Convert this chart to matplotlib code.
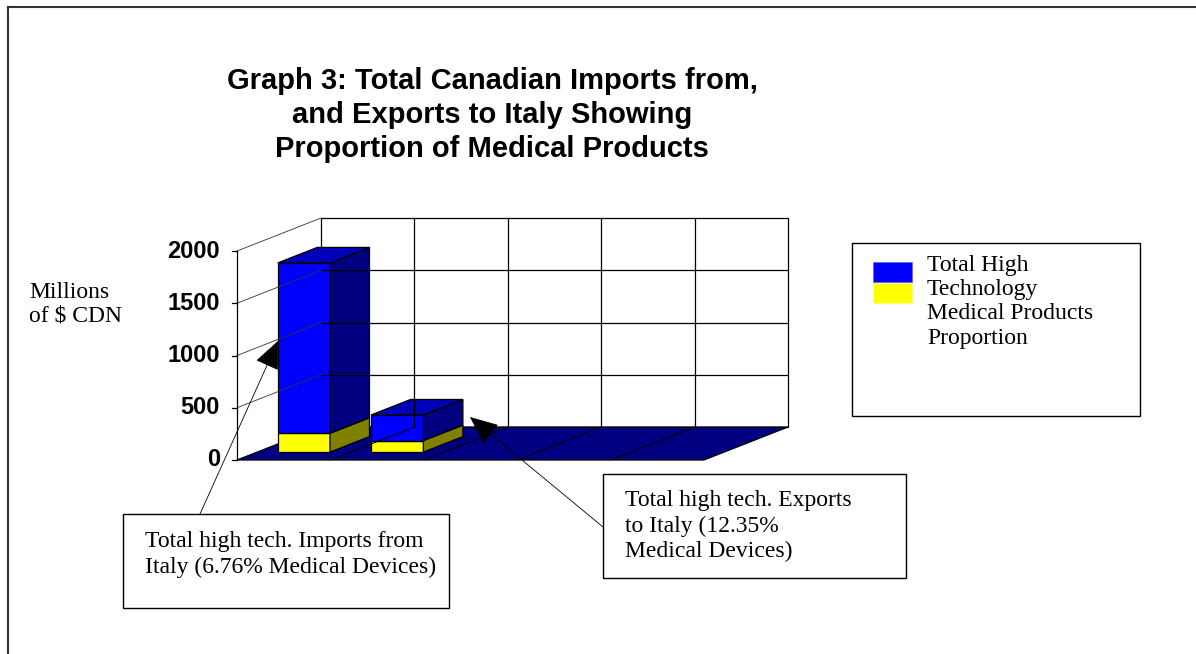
import matplotlib.pyplot as plt
from matplotlib.patches import Polygon, Rectangle

# data (millions of $ CDN)
categories = ["Imports from Italy", "Exports to Italy"]
total_high_tech = [1810, 355]
medical_products = [180, 110]
n_slots = 5
y_ticks = [0, 500, 1000, 1500, 2000]
legend_labels = ["Total High\nTechnology", "Medical Products\nProportion"]
notes = ["Total high tech. Imports from\nItaly (6.76% Medical Devices)",
         "Total high tech. Exports\nto Italy (12.35%\nMedical Devices)"]

W, H = 1196, 654
fig = plt.figure(figsize=(W / 100, H / 100), dpi=100)
ax = fig.add_axes([0, 0, 1, 1])

# axes scaled so the front floor corner sits at pixel (237, 460)
slot_px = 93.4
unit_px = 209 / 2000
ax.set_xlim(-237 / slot_px, (W - 237) / slot_px)
ax.set_ylim(-(H - 460) / unit_px, 460 / unit_px)
ax.axis("off")

DX = 84 / slot_px   # depth shift in slots
DY = 33 / unit_px   # depth shift in value units


def P(x, y, d):
    return (x + d * DX, y + d * DY)


def px(x, y):
    # pixel -> figure fraction (for text / boxes)
    return x / W, 1 - y / H


top = y_ticks[-1]
edge = dict(edgecolor="black", linewidth=0.9)

# back wall and grid
ax.add_patch(Polygon([P(0, 0, 1), P(n_slots, 0, 1), P(n_slots, top, 1), P(0, top, 1)],
                     facecolor="white", **edge))
for t in y_ticks[1:-1]:
    ax.plot(*zip(P(0, t, 1), P(n_slots, t, 1)), color="black", lw=0.9)
for i in range(1, n_slots):
    ax.plot(*zip(P(i, 0, 1), P(i, top, 1)), color="black", lw=0.9)

# left side wall lines
for t in y_ticks[1:]:
    ax.plot(*zip(P(0, t, 0), P(0, t, 1)), color="#333333", lw=0.6)

# floor
ax.add_patch(Polygon([P(0, 0, 0), P(n_slots, 0, 0), P(n_slots, 0, 1), P(0, 0, 1)],
                     facecolor="#000080", **edge))
for i in range(1, n_slots):
    ax.plot(*zip(P(i, 0, 0), P(i, 0, 1)), color="black", lw=0.7)

# value axis
ax.plot([0, 0], [0, top], color="black", lw=0.9)
for t in y_ticks:
    ax.plot([-5 / slot_px, 0], [t, t], color="black", lw=0.9)
    ax.text(-17 / slot_px, t, str(t), ha="right", va="center", fontsize=17,
            fontweight="bold", family="Liberation Sans")

# 3d stacked bars
half_w = 0.28
d0, d1 = 0.24, 0.71
for i in range(len(categories)):
    xl, xr = i + 0.5 - half_w, i + 0.5 + half_w
    segs = [(0, medical_products[i], "#FFFF00", "#808000", None),
            (medical_products[i], total_high_tech[i], "#0000FF", "#000080", "#0000B8")]
    for lo, hi, front, side, cap in segs:
        ax.add_patch(Polygon([P(xl, lo, d0), P(xr, lo, d0), P(xr, hi, d0), P(xl, hi, d0)],
                             facecolor=front, **edge))
        ax.add_patch(Polygon([P(xr, lo, d0), P(xr, lo, d1), P(xr, hi, d1), P(xr, hi, d0)],
                             facecolor=side, **edge))
        if cap:
            ax.add_patch(Polygon([P(xl, hi, d0), P(xr, hi, d0), P(xr, hi, d1), P(xl, hi, d1)],
                                 facecolor=cap, **edge))

# title
fig.text(*px(492, 115),
         "Graph 3: Total Canadian Imports from,\nand Exports to Italy Showing\nProportion of Medical Products",
         ha="center", va="center", fontsize=21, fontweight="bold", linespacing=1.28,
         family="Liberation Sans")

# axis label
fig.text(*px(29, 304), "Millions\nof $ CDN", ha="left", va="center", fontsize=17,
         family="Liberation Serif", linespacing=1.15)

# legend
fig.add_artist(Rectangle(px(852, 416), 288 / W, 173 / H, transform=fig.transFigure,
                         facecolor="white", edgecolor="black", lw=1))
fig.add_artist(Rectangle(px(873, 282), 39 / W, 20 / H, transform=fig.transFigure,
                         facecolor="#0000FF", edgecolor="#6060ff", lw=0.5))
fig.add_artist(Rectangle(px(873, 303), 39 / W, 20 / H, transform=fig.transFigure,
                         facecolor="#FFFF00", edgecolor="#ffff80", lw=0.5))
fig.text(*px(927, 255), "\n".join(legend_labels), ha="left", va="top", fontsize=17,
         family="Liberation Serif", linespacing=1.2)

# annotation boxes with arrows
boxes = [(123, 514, 449, 608, 145, 531), (603, 474, 906, 578, 625, 490)]
arrows = [((200, 514), (278, 341)), ((603, 527), (470, 417))]
for (x1, y1, x2, y2, tx, ty), note, (start, tip) in zip(boxes, notes, arrows):
    ax.annotate("", xy=px(*tip), xycoords="figure fraction",
                xytext=px(*start), textcoords="figure fraction",
                arrowprops=dict(arrowstyle="-|>,head_length=0.5,head_width=0.22",
                                color="black", lw=0.6,
                                mutation_scale=36, shrinkA=0, shrinkB=0))
    fig.add_artist(Rectangle(px(x1, y2), (x2 - x1) / W, (y2 - y1) / H,
                             transform=fig.transFigure, facecolor="white",
                             edgecolor="black", lw=1))
    fig.text(*px(tx, ty), note, ha="left", va="top", fontsize=17,
             family="Liberation Serif", linespacing=1.27)

# outer frame (top and left edges only are visible)
fig.add_artist(plt.Line2D([8 / W, 1], [1 - 7 / H] * 2, transform=fig.transFigure,
                          color="#333333", lw=1.5))
fig.add_artist(plt.Line2D([8 / W] * 2, [0, 1 - 7 / H], transform=fig.transFigure,
                          color="#333333", lw=1.5))

fig.savefig("out.png", dpi=100)
